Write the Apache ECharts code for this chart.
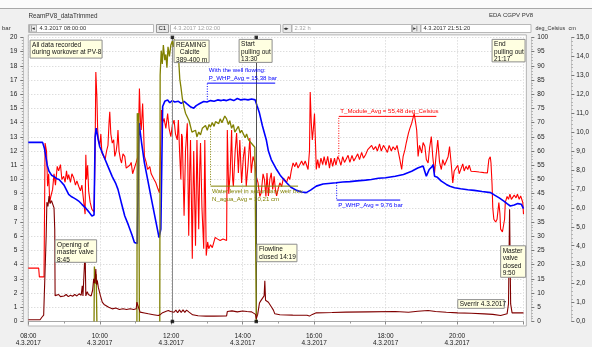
<!DOCTYPE html>
<html>
<head>
<meta charset="utf-8">
<script src="https://cdn.jsdelivr.net/npm/echarts@6/dist/echarts.min.js"></script>
<style>
html,body{margin:0;padding:0;background:#f0f0f0;}
#c{width:592px;height:347px;}
</style>
</head>
<body>
<div id="c"></div>
<script>
// Workover log PV-8, 4.3.2017 — time axis in decimal hours
const START_HOUR = 8;
const END_HOUR = 21 + 51 / 60 + 20 / 3600;
const DAY = '4.3.2017';
const xTickHours = [8, 10, 12, 14, 16, 18, 20];

// T_Module_Avg (deg_Celsius)
const tempHours = [8.00,8.29,8.31,8.44,8.47,8.51,8.54,8.57,8.60,8.63,8.68,8.72,8.76,8.81,8.85,8.90,8.94,8.99,9.03,9.07,9.10,9.13,9.18,9.22,9.27,9.32,9.36,9.41,9.46,9.50,9.54,9.57,9.59,9.61,9.63,9.66,9.69,9.73,9.78,9.84,9.87,9.89,9.92,9.94,9.96,10.00,10.03,10.06,10.10,10.15,10.19,10.23,10.26,10.28,10.31,10.35,10.39,10.42,10.46,10.49,10.51,10.54,10.58,10.61,10.65,10.70,10.74,10.79,10.84,10.88,10.92,10.97,11.02,11.07,11.11,11.14,11.16,11.20,11.23,11.25,11.30,11.34,11.40,11.44,11.48,11.52,11.57,11.62,11.67,11.70,11.73,11.76,11.80,11.85,11.90,11.94,11.99,12.03,12.08,12.12,12.17,12.20,12.24,12.27,12.29,12.31,12.36,12.40,12.45,12.49,12.52,12.54,12.59,12.61,12.63,12.68,12.72,12.77,12.80,12.82,12.86,12.91,12.94,12.98,13.02,13.05,13.10,13.15,13.19,13.23,13.30,13.37,13.45,13.55,13.57,13.61,13.65,13.69,13.72,13.74,13.79,13.83,13.88,13.92,13.97,14.02,14.06,14.10,14.15,14.20,14.24,14.29,14.34,14.38,14.43,14.48,14.52,14.57,14.61,14.65,14.68,14.72,14.76,14.80,14.84,14.88,14.92,14.95,15.00,15.04,15.09,15.14,15.18,15.23,15.28,15.32,15.36,15.41,15.46,15.50,15.55,15.60,15.65,15.70,15.75,15.78,15.83,15.87,15.89,15.92,15.95,15.98,16.01,16.04,16.06,16.10,16.14,16.19,16.24,16.28,16.33,16.38,16.43,16.47,16.52,16.57,16.61,16.66,16.70,16.75,16.80,16.85,16.89,16.95,17.00,17.06,17.11,17.16,17.22,17.27,17.33,17.38,17.44,17.50,17.55,17.61,17.66,17.72,17.77,17.83,17.88,17.94,17.99,18.05,18.10,18.16,18.21,18.27,18.32,18.36,18.40,18.45,18.49,18.54,18.58,18.64,18.68,18.73,18.77,18.80,18.84,18.87,18.91,18.95,19.01,19.05,19.10,19.14,19.19,19.23,19.28,19.32,19.37,19.41,19.46,19.51,19.56,19.60,19.65,19.70,19.75,19.79,19.84,19.88,19.92,19.97,20.02,20.06,20.11,20.16,20.20,20.25,20.30,20.34,20.39,20.50,20.62,20.75,20.85,20.89,20.93,20.95,20.98,21.00,21.03,21.08,21.12,21.17,21.20,21.22,21.27,21.31,21.33,21.35,21.40,21.44,21.48,21.52,21.56,21.60,21.65,21.69,21.74,21.78,21.82,21.84,21.86];
const tempDeg = [18.8,18.8,15.7,15.7,62.8,60.0,47.6,52.0,41.9,44.0,46.5,52.0,48.0,54.6,53.0,55.2,50.0,51.1,49.0,53.0,50.0,51.7,49.0,52.0,50.6,48.0,49.5,47.6,46.0,48.0,47.6,40.0,37.8,58.7,50.0,55.0,45.9,42.0,39.5,38.5,60.0,87.8,79.0,68.0,63.9,62.0,66.0,59.3,60.0,57.0,60.0,62.0,70.0,73.8,66.0,62.8,64.0,58.1,60.0,63.0,67.4,60.0,57.0,55.8,59.0,58.1,54.0,53.5,55.0,56.0,52.0,51.7,56.0,58.1,82.0,70.0,67.4,76.7,66.0,58.1,56.0,53.5,54.5,52.0,51.7,50.0,48.8,47.0,45.3,60.0,74.4,70.0,71.5,68.0,73.2,68.0,65.1,69.0,70.9,66.0,63.9,70.9,58.0,50.0,66.0,65.0,37.2,60.0,69.8,30.2,55.0,63.9,22.1,45.0,60.0,26.7,63.9,32.5,55.0,62.8,40.0,25.6,63.9,23.2,28.0,25.6,27.0,26.0,26.5,29.6,29.0,28.5,29.0,28.5,67.4,45.0,52.3,67.4,50.0,47.6,60.0,66.3,52.3,63.9,48.8,58.0,61.6,47.6,55.0,64.6,52.3,58.1,55.8,51.1,48.8,44.0,45.3,52.0,49.9,44.0,52.3,44.2,50.0,52.3,46.5,51.1,46.0,44.2,47.0,48.8,47.5,50.5,50.0,49.0,51.0,50.0,53.0,55.8,54.5,56.0,54.0,54.6,56.5,55.0,56.5,55.8,53.5,60.0,80.8,70.0,63.9,68.0,73.2,62.0,53.5,57.0,54.0,57.5,55.2,58.0,55.0,58.1,54.0,57.5,54.6,57.5,55.0,58.0,57.0,55.0,58.0,56.0,56.4,58.5,56.0,58.5,56.5,57.6,59.0,57.0,59.5,57.5,58.7,60.5,60.0,62.0,60.5,61.6,60.0,62.5,60.0,62.0,61.0,59.5,62.0,60.0,61.5,60.4,62.0,61.6,57.0,53.5,58.0,60.4,63.0,66.3,68.0,69.8,70.5,73.2,70.0,67.4,58.1,62.0,59.3,63.0,61.6,57.0,55.8,61.0,65.1,58.0,52.3,58.0,63.9,56.0,53.5,57.0,55.0,54.6,58.0,61.6,55.0,48.8,53.0,53.5,55.0,52.0,52.3,55.5,53.0,54.6,53.5,55.0,52.9,52.8,52.6,52.4,52.3,57.0,58.0,55.8,48.2,40.0,36.0,35.0,36.0,41.9,38.0,32.5,31.5,30.8,36.0,41.9,44.0,43.0,44.8,43.0,42.9,44.5,43.5,44.8,43.0,44.2,43.5,41.9,37.8];

// P_WHP_Avg (bar)
const whpHours = [8.00,8.40,8.45,8.49,8.53,8.58,8.65,8.72,8.80,8.86,8.93,9.00,9.07,9.13,9.20,9.27,9.34,9.41,9.50,9.60,9.70,9.78,9.84,9.87,9.90,9.95,10.00,10.07,10.15,10.25,10.35,10.45,10.51,10.60,10.70,10.80,10.90,10.97,11.05,11.10,11.17,11.25,11.34,11.43,11.55,11.66,11.71,11.76,11.82,11.90,11.96,12.03,12.10,12.20,12.28,12.36,12.45,12.55,12.63,12.70,12.80,12.91,13.00,13.10,13.20,13.30,13.40,13.46,13.55,13.65,13.75,13.85,13.95,14.05,14.15,14.25,14.35,14.40,14.47,14.55,14.66,14.72,14.80,14.95,15.05,15.15,15.23,15.35,15.51,15.65,15.78,15.90,16.06,16.25,16.40,16.61,16.80,17.00,17.20,17.44,17.60,17.80,18.00,18.27,18.50,18.73,18.90,19.05,19.10,19.14,19.22,19.30,19.33,19.37,19.45,19.56,19.70,19.80,19.93,20.10,20.30,20.48,20.70,20.94,21.05,21.18,21.31,21.40,21.49,21.60,21.70,21.80,21.86];
const whpBar = [12.61,12.61,12.2,11.63,11.0,10.58,10.3,10.2,10.05,10.0,9.8,9.6,9.25,8.95,8.8,8.7,8.6,8.48,8.25,8.0,7.7,7.43,7.5,13.0,13.62,12.9,12.3,11.9,11.4,10.8,10.2,9.7,9.3,8.4,7.43,6.8,6.1,5.56,5.5,13.97,12.6,11.17,10.0,8.83,7.3,5.91,6.5,15.14,15.5,15.6,15.4,15.55,15.45,15.5,15.35,15.49,15.3,15.1,15.02,15.2,15.35,15.49,15.45,15.55,15.5,15.6,15.55,15.6,15.55,15.65,15.55,15.7,15.6,15.65,15.6,15.66,15.6,15.2,14.67,13.8,12.8,12.0,11.4,10.7,10.3,10.0,9.77,9.45,9.23,9.12,9.07,9.25,9.53,9.68,9.72,9.77,9.82,9.85,9.9,9.95,10.0,10.08,10.12,10.23,10.35,10.58,10.8,10.95,11.05,10.23,10.7,10.9,11.05,10.23,10.15,9.88,9.65,9.52,9.42,9.35,9.28,9.23,9.15,9.07,8.9,8.7,8.48,8.3,8.13,8.2,8.3,8.25,7.95];

// N_agua_Avg, water level in secondary weir box (cm); null = no reading
const levelHours = [9.84,9.85,9.88,9.90,9.92,9.93,11.04,11.05,11.07,11.09,11.11,11.12,11.68,11.69,11.72,11.75,11.78,11.82,11.85,11.88,11.91,11.95,11.99,12.03,12.06,12.09,12.13,12.17,12.20,12.24,12.27,12.31,12.36,12.40,12.45,12.50,12.54,12.58,12.63,12.68,12.72,12.77,12.82,12.87,12.91,12.96,13.01,13.06,13.10,13.15,13.20,13.24,13.28,13.33,13.37,13.42,13.46,13.50,13.55,13.60,13.64,13.69,13.74,13.78,13.83,13.88,13.93,13.97,14.02,14.07,14.11,14.16,14.20,14.25,14.30,14.34,14.36,14.38];
const levelCm = [0,2.9,2.0,2.5,0,null,0,11.0,10.6,11.0,0,null,0,13.0,14.3,13.6,14.6,13.8,14.1,13.4,14.5,14.0,14.6,14.8,14.5,14.9,14.2,13.9,14.1,12.8,12.4,11.8,11.3,11.0,10.8,10.6,10.5,10.0,9.9,10.1,9.75,10.0,9.85,10.2,10.1,10.35,10.1,10.4,10.28,10.5,10.3,10.55,10.6,10.45,10.7,10.5,10.6,10.85,10.7,10.4,10.6,10.2,10.4,10.0,10.1,10.3,9.95,10.1,9.9,9.7,9.9,9.6,9.6,9.4,9.5,9.2,4.9,0];

// Line pressure after master valve (bar)
const lineHours = [8.00,8.33,8.38,8.43,8.47,8.50,8.52,8.55,8.58,8.61,8.65,8.69,8.72,8.74,8.75,8.80,8.85,8.90,8.95,9.00,9.06,9.12,9.18,9.24,9.30,9.36,9.42,9.48,9.51,9.53,9.57,9.59,9.61,9.65,9.68,9.72,9.76,9.80,9.83,9.86,9.89,9.91,9.93,9.96,9.98,10.02,10.07,10.12,10.17,10.25,10.35,10.45,10.55,10.65,10.75,10.85,10.95,11.02,11.04,11.07,11.13,11.25,11.36,11.50,11.64,11.70,11.76,11.80,11.86,11.92,11.98,12.03,12.08,12.13,12.18,12.23,12.28,12.33,12.38,12.43,12.50,12.60,12.75,12.97,13.20,13.55,13.57,13.70,13.85,14.00,14.12,14.25,14.36,14.38,14.42,14.47,14.51,14.56,14.60,14.62,14.64,14.68,14.72,14.76,14.81,14.86,14.90,15.04,15.40,15.80,15.87,15.95,16.06,16.50,16.89,17.50,18.27,18.64,18.90,19.19,19.40,19.70,20.02,20.40,20.76,21.00,21.22,21.40,21.44,21.47,21.50,21.54,21.86];
const lineBar = [0.12,0.12,0.3,0.45,0.55,6.0,8.4,8.1,8.83,8.3,8.5,8.6,8.0,6.5,1.82,1.7,1.9,1.75,1.85,1.8,1.9,1.75,1.85,1.78,1.9,1.8,1.95,1.85,2.52,1.8,1.9,4.98,1.8,2.1,1.9,2.0,1.8,2.2,3.0,2.7,3.7,2.6,2.9,2.4,2.52,1.8,1.36,1.2,1.12,1.0,0.89,0.95,0.85,0.9,0.84,0.9,0.84,0.9,1.36,1.1,0.66,0.6,0.54,0.48,0.42,0.5,0.62,0.66,0.72,0.77,0.7,0.82,0.65,0.8,0.62,0.82,0.63,0.82,0.64,0.8,0.66,0.47,0.4,0.38,0.38,0.39,0.7,0.75,0.68,0.74,0.7,0.68,0.5,0.19,0.5,1.3,1.47,1.6,1.8,2.87,1.5,1.6,1.36,1.3,1.0,0.8,0.54,0.47,0.45,0.44,0.38,0.5,0.61,0.63,0.66,0.68,0.7,0.65,0.72,0.77,0.7,0.65,0.61,0.58,0.54,0.5,0.42,0.54,1.24,7.9,1.24,0.61,0.61];

// Cursor lines (C1 at 12:02 and the flowline cursor)
const cursorHours = [12 + 2 / 60, 14.38];

// Yellow note boxes, anchored at their top-left corner in (hour, bar)
const notes = [
  { text: 'All data recorded\nduring workover at PV-8', at: [8.05, 19.81], w: 72, h: 18 },
  { text: 'REAMING\n  Calcite\n389-400 m', at: [12.08, 19.81], w: 35, h: 22.5 },
  { text: 'Start\npulling out\n13:30', at: [13.90, 19.86], w: 33, h: 23 },
  { text: 'End\npulling out\n21:17', at: [20.98, 19.86], w: 33, h: 22.5 },
  { text: 'Opening of\nmaster valve\n8:45', at: [8.75, 5.75], w: 41.5, h: 22.5 },
  { text: 'Flowline\nclosed 14:19', at: [14.40, 5.44], w: 40, h: 17.5 },
  { text: 'Master\nvalve\nclosed\n9:50', at: [21.22, 5.33], w: 25, h: 31.5 },
  { text: 'Sverrir 4.3.2017', at: [20.02, 1.54], w: 46.5, h: 8.7 }
];

// Average callouts: dotted stem from the curve, a rule, and the caption
const callouts = [
  { color: '#0000ff', text: 'With the well flowing:\nP_WHP_Avg = 15,38 bar', from: [13.01, 15.45], to: [13.01, 16.78], ruleEnd: 14.91, above: true },
  { color: '#ff0000', text: 'T_Module_Avg = 55,48 deg_Celsius', from: [16.69, 11.62], to: [16.69, 14.44], ruleEnd: 19.42, above: true },
  { color: '#0000ff', text: 'P_WHP_Avg = 9,76 bar', from: [16.63, 9.77], to: [16.63, 8.55], ruleEnd: 18.41, above: false },
  { color: '#808000', text: 'Water level in secondary weir box\nN_agua_Avg = 10,21 cm', from: [13.10, 13.74], to: [13.10, 9.53], ruleEnd: 15.55, above: false }
];

const FONT = 'Liberation Sans';
const FS = 6.5;
const zip = (hs, vs) => hs.map((h, i) => [h, vs[i]]);
const pad2 = n => String(n).padStart(2, '0');

const chart = echarts.init(document.getElementById('c'), null, { renderer: 'canvas' });

const axisText = { fontSize: FS, fontFamily: FONT, color: '#222' };

chart.setOption({
  animation: false,
  backgroundColor: '#f0f0f0',
  grid: { left: 28.3, right: 62, top: 37.4, bottom: 24.3 },
  xAxis: {
    type: 'value', min: START_HOUR, max: END_HOUR, interval: 2, offset: 6.5,
    axisLine: { show: true, lineStyle: { color: '#a8a8a8', width: 1 } },
    axisTick: { show: true, length: 3, lineStyle: { color: '#888' } },
    minorTick: { show: true, splitNumber: 2, length: 2, lineStyle: { color: '#999' } },
    axisLabel: Object.assign({}, axisText, {
      margin: 4, lineHeight: 7.5, showMaxLabel: false,
      formatter: v => (xTickHours.indexOf(v) >= 0 ? pad2(v) + ':00\n' + DAY : '')
    }),
    splitLine: { show: true, lineStyle: { type: [1, 2], color: '#cfcfcf' } }
  },
  yAxis: [
    {
      type: 'value', min: 0, max: 20, interval: 1, position: 'left', offset: 5,
      axisLine: { show: true, lineStyle: { color: '#c0c0c0' } },
      axisTick: { show: true, length: 3, lineStyle: { color: '#777' } },
      minorTick: { show: true, splitNumber: 5, length: 1.5, lineStyle: { color: '#aaa' } },
      axisLabel: Object.assign({}, axisText, { margin: 6 }),
      splitLine: { show: true, lineStyle: { type: [1, 2], color: '#cfcfcf' } }
    },
    {
      type: 'value', min: 0, max: 100, interval: 5, position: 'right', offset: 8,
      axisLine: { show: true, lineStyle: { color: '#c8c8c8' } },
      axisTick: { show: true, length: 3, lineStyle: { color: '#777' } },
      minorTick: { show: true, splitNumber: 5, length: 1.5, lineStyle: { color: '#aaa' } },
      axisLabel: Object.assign({}, axisText, { margin: 6 }),
      splitLine: { show: false }
    },
    {
      type: 'value', min: 0, max: 15, interval: 1, position: 'right', offset: 48,
      axisLine: { show: true, lineStyle: { color: '#c8c8c8' } },
      axisTick: { show: true, length: 3, lineStyle: { color: '#777' } },
      minorTick: { show: true, splitNumber: 5, length: 1.5, lineStyle: { color: '#aaa' } },
      axisLabel: Object.assign({}, axisText, { margin: 5, formatter: v => v.toFixed(1).replace('.', ',') }),
      splitLine: { show: false }
    }
  ],
  series: [
    {
      name: 'T_Module_Avg', type: 'line', yAxisIndex: 1, data: zip(tempHours, tempDeg),
      showSymbol: false, lineStyle: { color: '#ff0000', width: 1.1 }, z: 3
    },
    {
      name: 'P_WHP_Avg', type: 'line', yAxisIndex: 0, data: zip(whpHours, whpBar),
      showSymbol: false, lineStyle: { color: '#0000ff', width: 1.6 }, z: 4
    },
    {
      name: 'N_agua_Avg', type: 'line', yAxisIndex: 2, data: zip(levelHours, levelCm),
      showSymbol: false, connectNulls: false, lineStyle: { color: '#808000', width: 1.3 }, z: 5
    },
    {
      name: 'P_line', type: 'line', yAxisIndex: 0, data: zip(lineHours, lineBar),
      showSymbol: false, lineStyle: { color: '#800000', width: 1.1 }, z: 6
    },
    {
      name: 'cursors', type: 'scatter', yAxisIndex: 0, z: 7,
      data: cursorHours.flatMap(h => [[h, 0], [h, 20]]),
      symbol: 'rect', symbolSize: 3.5, itemStyle: { color: '#000' }, clip: false,
      markLine: {
        silent: true, symbol: 'none', label: { show: false },
        data: cursorHours.map((h, i) => ({ xAxis: h, lineStyle: { color: i === 0 ? '#8a8a8a' : '#505050', width: 1, type: 'solid' } }))
      }
    }
  ]
});

const px = p => chart.convertToPixel({ xAxisIndex: 0, yAxisIndex: 0 }, p);
const txt = (x, y, text, extra) => ({
  type: 'text', x, y, z: 100,
  style: Object.assign({ text, fontSize: 6, fontFamily: FONT, fill: '#333', verticalAlign: 'middle' }, extra || {})
});
const box = (x, y, w, h, fill, stroke) => ({
  type: 'rect', z: 100, shape: { x, y, width: w, height: h },
  style: { fill, stroke, lineWidth: 1 }
});

const g = [];
// plot panel and window chrome
const tl = px([START_HOUR, 20]), br = px([END_HOUR, 0]);
g.push({ type: 'rect', z: -100, shape: { x: tl[0], y: tl[1] - 2.5, width: br[0] - tl[0] + 3, height: br[1] - tl[1] + 7 }, style: { fill: '#ffffff', stroke: '#b4b4b4', lineWidth: 1 } });
g.push({ type: 'rect', z: -100, shape: { x: 0, y: 0, width: 592, height: 8 }, style: { fill: '#fbfbfb' } });
g.push({ type: 'line', z: -100, shape: { x1: 0, y1: 8.5, x2: 592, y2: 8.5 }, style: { stroke: '#a8a8a8', lineWidth: 1 } });
g.push(txt(28.5, 16, 'ReamPV8_dataTrimmed', { fontSize: 6.3 }));
g.push(txt(489, 15, 'EDA CGPV PV8'));
g.push(txt(2, 28.5, 'bar'));
g.push(txt(535.5, 28.5, 'deg_Celsius', { fontSize: 5.4 }));
g.push(txt(568.5, 28.5, 'cm', { fontSize: 5.6 }));
g.push(box(28.5, 24.5, 125, 8, '#ffffff', '#b8b8b8'));
g.push(box(29.5, 25, 7, 7, '#ececec', '#b0b0b0'));
g.push(txt(30.2, 28.6, '|◂', { fontSize: 5.5, fontFamily: 'DejaVu Sans' }));
g.push(txt(39.5, 28.6, '4.3.2017 08:00:00', { fontSize: 5.8 }));
g.push(box(156.5, 24.5, 12, 8, '#e8e8e8', '#9a9a9a'));
g.push(txt(158.5, 28.6, 'C1', { fontSize: 6, fill: '#111' }));
g.push(box(170.5, 24.5, 110, 8, '#ffffff', '#b8b8b8'));
g.push(txt(173.5, 28.6, '4.3.2017 12:02:00', { fontSize: 5.8, fill: '#a4a4a4' }));
g.push(box(283, 24.5, 8.5, 8, '#ececec', '#b0b0b0'));
g.push(txt(283.6, 28.6, '◂▸', { fontSize: 5, fontFamily: 'DejaVu Sans' }));
g.push(box(292, 24.5, 119.5, 8, '#ffffff', '#b8b8b8'));
g.push(txt(294.5, 28.6, '2.32 h', { fontSize: 5.8, fill: '#a4a4a4' }));
g.push(box(412.5, 24.5, 8, 8, '#ececec', '#b0b0b0'));
g.push(txt(413.2, 28.6, '▸|', { fontSize: 5.5, fontFamily: 'DejaVu Sans' }));
g.push(box(421, 24.5, 110, 8, '#ffffff', '#b8b8b8'));
g.push(txt(423.5, 28.6, '4.3.2017 21:51:20', { fontSize: 5.8 }));

// note boxes
notes.forEach(n => {
  const p = px(n.at);
  g.push(box(p[0], p[1], n.w, n.h, '#ffffe1', '#8e8e8e'));
  g.push({
    type: 'text', z: 101, x: p[0] + 2, y: p[1] + 1.2,
    style: { text: n.text, fontSize: FS, fontFamily: FONT, fill: '#111', lineHeight: 7.6, verticalAlign: 'top' }
  });
});

// average callouts
callouts.forEach(c => {
  const a = px(c.from), b = px(c.to), e = px([c.ruleEnd, c.to[1]]);
  g.push({ type: 'line', z: 90, shape: { x1: a[0], y1: a[1], x2: b[0], y2: b[1] }, style: { stroke: c.color, lineWidth: 1, lineDash: [1, 1.5] } });
  g.push({ type: 'line', z: 90, shape: { x1: b[0], y1: b[1], x2: e[0], y2: e[1] }, style: { stroke: c.color, lineWidth: 1 } });
  g.push({
    type: 'text', z: 91, x: b[0] + 1.5, y: c.above ? b[1] - 1 : b[1] + 1.5,
    style: { text: c.text, fontSize: 6.1, fontFamily: FONT, fill: c.color, lineHeight: 7.8, verticalAlign: c.above ? 'bottom' : 'top' }
  });
});

chart.setOption({ graphic: { elements: g } });
</script>
</body>
</html>
